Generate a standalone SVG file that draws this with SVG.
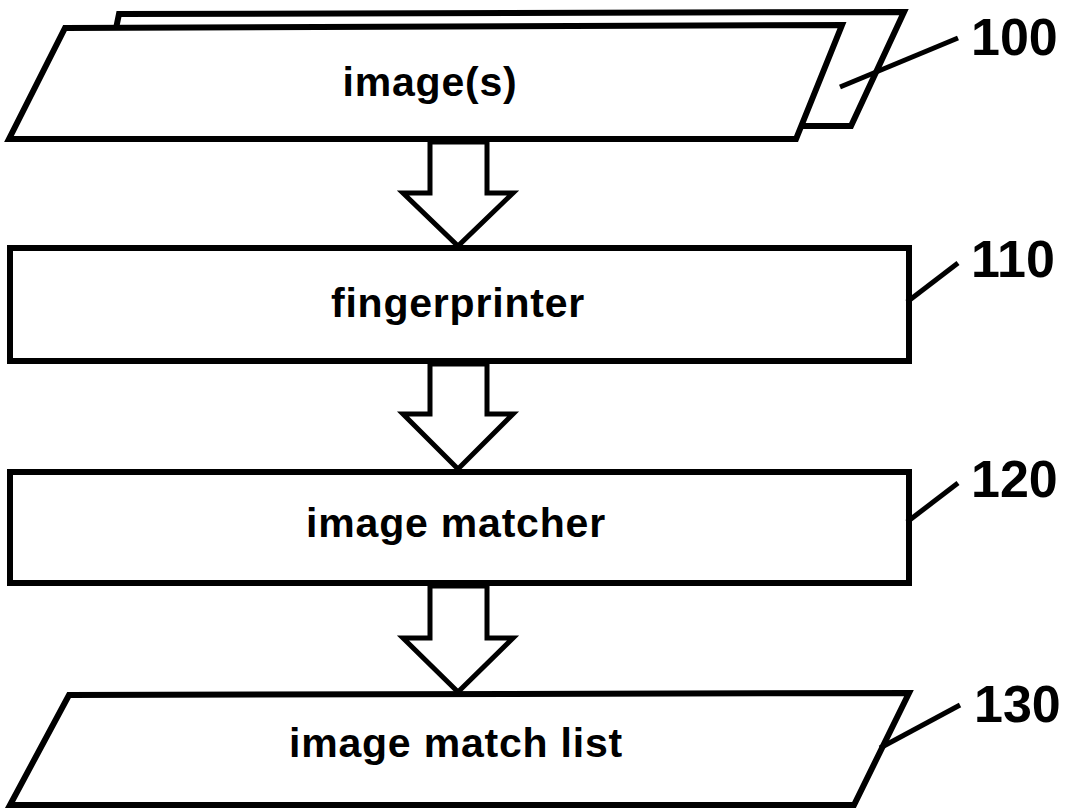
<svg xmlns="http://www.w3.org/2000/svg" width="1071" height="809" viewBox="0 0 1071 809">
<style>
.shape{fill:#fff;stroke:#000;stroke-width:6;stroke-linejoin:miter}
.arrow{fill:#fff;stroke:#000;stroke-width:5;stroke-linejoin:miter}
.lead{fill:none;stroke:#000;stroke-width:5}
.lbl{font-family:"Liberation Sans",Arial,sans-serif;font-weight:bold;font-size:41px;letter-spacing:0.8px;text-anchor:middle;fill:#000}
.num{font-family:"Liberation Sans",Arial,sans-serif;font-weight:bold;font-size:52px;fill:#000}
</style>
<rect width="1071" height="809" fill="#fff"/>
<g id="node-100">
<polygon class="shape" points="119,14 904,12 851,126 96,126"/>
<polygon class="shape" points="65,28 842,25 796,139 9,139"/>
<text class="lbl" x="430" y="96">image(s)</text>
<line class="lead" x1="840" y1="87" x2="958" y2="38"/>
<text class="num" x="971" y="55">100</text>
</g>
<g id="node-110">
<rect class="shape" x="10" y="248" width="899" height="113"/>
<text class="lbl" x="458" y="317">fingerprinter</text>
<line class="lead" x1="907" y1="302" x2="958" y2="263"/>
<text class="num" x="971" y="277">110</text>
</g>
<g id="node-120">
<rect class="shape" x="10" y="472" width="899" height="111"/>
<text class="lbl" x="456" y="537">image matcher</text>
<line class="lead" x1="907" y1="522" x2="958" y2="483"/>
<text class="num" x="971" y="497">120</text>
</g>
<g id="node-130">
<polygon class="shape" points="69,695 909,693 854,805 10,805"/>
<text class="lbl" x="456" y="757">image match list</text>
<line class="lead" x1="880" y1="748" x2="960" y2="705"/>
<text class="num" x="974" y="722">130</text>
</g>
<g id="connectors">
<polygon class="arrow" points="430,142 487,142 487,193 513,193 458,246 403,193 430,193"/>
<polygon class="arrow" points="430,364 487,364 487,414 513,414 458,469 403,414 430,414"/>
<polygon class="arrow" points="430,586 487,586 487,638 513,638 458,692 403,638 430,638"/>
</g>
</svg>
